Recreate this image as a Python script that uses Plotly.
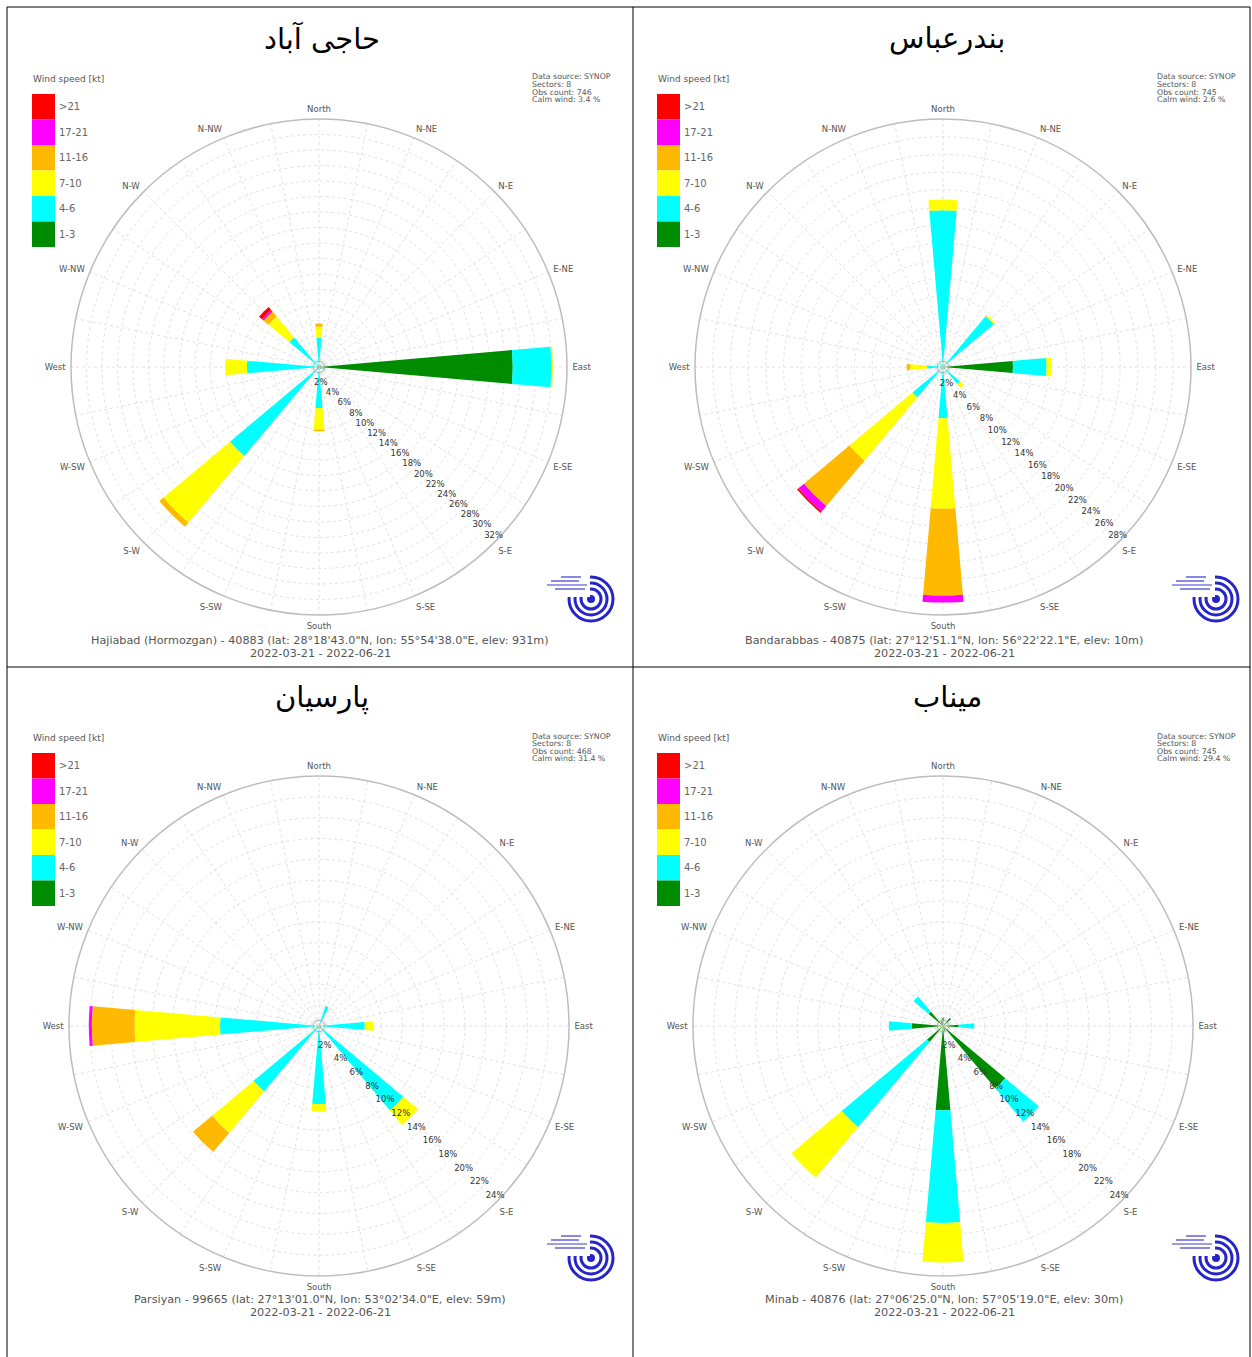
import numpy as np
import plotly.graph_objects as go

W, H = 1252, 1357

# ---------------------------------------------------------------- data
DIRECTIONS = ["N", "NNE", "NE", "ENE", "E", "ESE", "SE", "SSE",
              "S", "SSW", "SW", "WSW", "W", "WNW", "NW", "NNW"]
DIRECTION_LABELS = ["North", "N-NE", "N-E", "E-NE", "East", "E-SE", "S-E", "S-SE",
                    "South", "S-SW", "S-W", "W-SW", "West", "W-NW", "N-W", "N-NW"]
SPEED_CLASSES = ["1-3", "4-6", "7-10", "11-16", "17-21", ">21"]
CLASS_COLORS = ["#008c00", "#00ffff", "#ffff00", "#ffb900", "#ff00ff", "#ff0000"]

# frequency (%) per direction, one list per speed class
#                 N    NNE  NE   ENE  E     ESE  SE   SSE  S    SSW  SW    WSW  W    WNW  NW   NNW
HAJIABAD_1_3   = [0.3, 0.0, 0.2, 0.3, 25.0, 0.5, 0.3, 0.0, 0.3, 0.2, 0.5,  0.2, 0.3, 0.2, 0.3, 0.0]
HAJIABAD_4_6   = [3.5, 0.0, 0.3, 0.0, 5.0,  0.3, 0.0, 0.0, 5.0, 0.0, 14.5, 0.0, 9.0, 0.0, 4.7, 0.0]
HAJIABAD_7_10  = [1.4, 0.0, 0.0, 0.0, 0.2,  0.0, 0.0, 0.0, 2.8, 0.0, 11.2, 0.0, 2.8, 0.0, 3.5, 0.0]
HAJIABAD_11_16 = [0.4, 0.0, 0.0, 0.0, 0.0,  0.0, 0.0, 0.0, 0.2, 0.0, 0.7,  0.0, 0.0, 0.0, 0.8, 0.0]
HAJIABAD_17_21 = [0.0, 0.0, 0.0, 0.0, 0.0,  0.0, 0.0, 0.0, 0.0, 0.0, 0.0,  0.0, 0.0, 0.0, 0.3, 0.0]
HAJIABAD_GT21  = [0.0, 0.0, 0.0, 0.0, 0.0,  0.0, 0.0, 0.0, 0.0, 0.0, 0.0,  0.0, 0.0, 0.0, 0.5, 0.0]

BANDAR_1_3     = [0.3,  0.0, 0.3, 0.0, 7.9, 0.0, 0.3, 0.0, 0.3,  0.0, 0.3, 0.0, 0.3, 0.0, 0.0, 0.0]
BANDAR_4_6     = [17.4, 0.0, 7.2, 0.0, 3.8, 0.0, 2.2, 0.0, 5.5,  0.0, 4.2, 0.0, 1.5, 0.0, 0.5, 0.0]
BANDAR_7_10    = [1.2,  0.0, 0.2, 0.0, 0.6, 0.0, 0.6, 0.0, 10.2, 0.0, 9.3, 0.0, 1.9, 0.0, 0.0, 0.0]
BANDAR_11_16   = [0.0,  0.0, 0.0, 0.0, 0.0, 0.0, 0.0, 0.0, 9.8,  0.0, 6.7, 0.0, 0.4, 0.0, 0.0, 0.0]
BANDAR_17_21   = [0.0,  0.0, 0.0, 0.0, 0.0, 0.0, 0.0, 0.0, 0.8,  0.0, 0.8, 0.0, 0.0, 0.0, 0.0, 0.0]
BANDAR_GT21    = [0.0,  0.0, 0.0, 0.0, 0.0, 0.0, 0.0, 0.0, 0.0,  0.0, 0.2, 0.0, 0.0, 0.0, 0.0, 0.0]

PARSIYAN_1_3   = [0.0, 0.2, 0.0, 0.0, 0.2, 0.0, 0.3,  0.0, 0.3, 0.0, 0.3, 0.0, 0.3, 0.0, 0.0, 0.0]
PARSIYAN_4_6   = [0.0, 1.8, 0.0, 0.0, 4.2, 0.0, 10.3, 0.0, 7.2, 0.0, 7.9, 0.0, 9.2, 0.0, 0.0, 0.0]
PARSIYAN_7_10  = [0.0, 0.0, 0.0, 0.0, 0.8, 0.0, 1.8,  0.0, 0.7, 0.0, 5.2, 0.0, 8.2, 0.0, 0.0, 0.0]
PARSIYAN_11_16 = [0.0, 0.0, 0.0, 0.0, 0.0, 0.0, 0.0,  0.0, 0.0, 0.0, 2.4, 0.0, 4.1, 0.0, 0.0, 0.0]
PARSIYAN_17_21 = [0.0, 0.0, 0.0, 0.0, 0.0, 0.0, 0.0,  0.0, 0.0, 0.0, 0.0, 0.0, 0.3, 0.0, 0.0, 0.0]
PARSIYAN_GT21  = [0.0] * 16

MINAB_1_3      = [0.8, 0.0, 1.0, 0.0, 1.5, 0.0, 7.8, 0.5, 8.1,  0.0, 2.0,  0.0, 3.0, 0.0, 1.8, 0.5]
MINAB_4_6      = [0.0, 0.0, 0.0, 0.0, 1.5, 0.0, 4.2, 0.0, 10.8, 0.0, 10.7, 0.0, 2.2, 0.0, 1.9, 0.0]
MINAB_7_10     = [0.0, 0.0, 0.0, 0.0, 0.0, 0.0, 0.0, 0.0, 3.8,  0.0, 6.3,  0.0, 0.0, 0.0, 0.0, 0.0]
MINAB_11_16    = [0.0] * 16
MINAB_17_21    = [0.0] * 16
MINAB_GT21     = [0.0] * 16

STATION_TITLES = ["حاجی آباد", "بندرعباس", "پارسیان", "میناب"]
STATION_CAPTIONS = [
    "Hajiabad (Hormozgan) - 40883 (lat: 28°18'43.0\"N, lon: 55°54'38.0\"E, elev: 931m)",
    "Bandarabbas - 40875 (lat: 27°12'51.1\"N, lon: 56°22'22.1\"E, elev: 10m)",
    "Parsiyan - 99665 (lat: 27°13'01.0\"N, lon: 53°02'34.0\"E, elev: 59m)",
    "Minab - 40876 (lat: 27°06'25.0\"N, lon: 57°05'19.0\"E, elev: 30m)",
]
PERIOD = "2022-03-21 - 2022-06-21"
OBS_COUNTS = [746, 745, 468, 745]
CALM_PERCENT = [3.4, 2.6, 31.4, 29.4]
RADIAL_MAX = [32, 28, 24, 24]

STATION_SERIES = [
    [HAJIABAD_1_3, HAJIABAD_4_6, HAJIABAD_7_10, HAJIABAD_11_16, HAJIABAD_17_21, HAJIABAD_GT21],
    [BANDAR_1_3, BANDAR_4_6, BANDAR_7_10, BANDAR_11_16, BANDAR_17_21, BANDAR_GT21],
    [PARSIYAN_1_3, PARSIYAN_4_6, PARSIYAN_7_10, PARSIYAN_11_16, PARSIYAN_17_21, PARSIYAN_GT21],
    [MINAB_1_3, MINAB_4_6, MINAB_7_10, MINAB_11_16, MINAB_17_21, MINAB_GT21],
]

# ---------------------------------------------------------------- layout helpers
def px(x):
    return x / W


def py(y):
    return 1 - y / H


# pixel geometry of each cell: rose centre, rose radius, cell origin
PANELS = [
    dict(cx=319, cy=367, r=248, ox=0, oy=0),
    dict(cx=943, cy=367, r=248, ox=625, oy=0),
    dict(cx=319, cy=1026, r=250, ox=0, oy=659),
    dict(cx=943, cy=1026, r=250, ox=625, oy=659),
]

FONT = "DejaVu Sans"
theta = [i * 22.5 for i in range(16)]
grid_vals = [i * 11.25 for i in range(32)]
grid_text = [DIRECTION_LABELS[i // 2] if i % 2 == 0 else "" for i in range(32)]

fig = go.Figure()
shapes, annotations = [], []
layout_polars = {}


def text(x, y, s, size, color="#444", xanchor="left", family=FONT):
    annotations.append(dict(
        x=px(x), y=py(y), xref="paper", yref="paper", text=s, showarrow=False,
        xanchor=xanchor, yanchor="middle", font=dict(family=family, size=size, color=color),
    ))


for p, (panel, series) in enumerate(zip(PANELS, STATION_SERIES)):
    name = "polar" if p == 0 else f"polar{p + 1}"
    for cls, color, values in zip(SPEED_CLASSES, CLASS_COLORS, series):
        fig.add_trace(go.Barpolar(
            r=values, theta=theta, width=[10] * 16, name=cls,
            marker=dict(color=color, line=dict(width=0)),
            subplot=name, showlegend=False,
        ))
    # calm-wind circle at the centre
    ring = np.linspace(0, 360, 73)
    fig.add_trace(go.Scatterpolar(
        r=[RADIAL_MAX[p] * 0.022] * len(ring), theta=ring, mode="lines",
        line=dict(color="#9a9a9a", width=1), subplot=name,
        showlegend=False, hoverinfo="skip",
    ))

    cx, cy, r = panel["cx"], panel["cy"], panel["r"]
    rmax = RADIAL_MAX[p]
    layout_polars[name] = dict(
        domain=dict(x=[px(cx - r), px(cx + r)], y=[py(cy + r), py(cy - r)]),
        bgcolor="white",
        barmode="stack",
        angularaxis=dict(
            rotation=90, direction="clockwise", thetaunit="degrees",
            tickmode="array", tickvals=grid_vals, ticktext=grid_text,
            showline=True, linecolor="#bdbdbd", linewidth=1.5,
            showgrid=True, gridcolor="#e2e2e2", griddash="dot", gridwidth=1,
            ticks="outside", ticklen=3, tickcolor="rgba(0,0,0,0)",
            tickfont=dict(family=FONT, size=8.5, color="#555"),
        ),
        radialaxis=dict(
            range=[0, rmax], angle=-41, tickangle=-41,
            tickmode="array", tickvals=list(range(2, rmax + 1, 2)),
            ticktext=[f"{v}%" for v in range(2, rmax + 1, 2)],
            showline=False, ticks="",
            showgrid=True, gridcolor="#e2e2e2", griddash="dot", gridwidth=1,
            tickfont=dict(family=FONT, size=8.5, color="#333"),
        ),
    )

    ox, oy = panel["ox"], panel["oy"]

    # station title (Persian)
    text(ox + 322, oy + 38, STATION_TITLES[p], 29, color="#000", xanchor="center")

    # speed legend
    lx = ox + 32
    text(lx - 1, oy + 79, "Wind speed [kt]", 9, color="#555")
    top = oy + 94
    box_h = 25.5
    for k in range(6):
        idx = 5 - k
        y0 = top + k * box_h
        shapes.append(dict(
            type="rect", xref="paper", yref="paper",
            x0=px(lx), x1=px(lx + 23), y0=py(y0 + box_h), y1=py(y0),
            fillcolor=CLASS_COLORS[idx], line=dict(width=0),
        ))
        text(lx + 25, y0 + box_h / 2, SPEED_CLASSES[idx], 10, color="#666")

    # source info block
    info_lines = ["Data source: SYNOP", "Sectors: 8", f"Obs count: {OBS_COUNTS[p]}",
                  f"Calm wind: {CALM_PERCENT[p]} %"]
    for j, line in enumerate(info_lines):
        text(ox + 530, oy + 77 + j * 7.6, line, 7.8, color="#555")

    # caption under the rose
    text(cx + 1, oy + 640, STATION_CAPTIONS[p], 11.2, color="#555", xanchor="center")
    text(cx + 1, oy + 653, PERIOD, 11.2, color="#555", xanchor="center")

    # organisation logo: blue spiral with small wordmark lines
    lcx, lcy = ox + 591, oy + 599
    for rad, wdt in [(22, 3), (16, 3), (10, 3)]:
        shapes.append(dict(
            type="circle", xref="paper", yref="paper",
            xsizemode="pixel", ysizemode="pixel", xanchor=px(lcx), yanchor=py(lcy),
            x0=-rad, x1=rad, y0=-rad, y1=rad,
            line=dict(color="#2626c8", width=wdt), fillcolor="rgba(0,0,0,0)",
        ))
    shapes.append(dict(
        type="circle", xref="paper", yref="paper",
        xsizemode="pixel", ysizemode="pixel", xanchor=px(lcx), yanchor=py(lcy),
        x0=-4, x1=4, y0=-4, y1=4, line=dict(width=0), fillcolor="#2626c8",
    ))
    shapes.append(dict(
        type="rect", xref="paper", yref="paper",
        x0=px(lcx - 26), x1=px(lcx - 1), y0=py(lcy - 2), y1=py(lcy - 26),
        line=dict(width=0), fillcolor="white",
    ))
    for j, (xa, xb) in enumerate([(lcx - 30, lcx - 10), (lcx - 40, lcx - 12),
                                  (lcx - 44, lcx - 4), (lcx - 36, lcx - 6)]):
        yy = lcy - 22 + j * 4
        shapes.append(dict(
            type="line", xref="paper", yref="paper",
            x0=px(xa), x1=px(xb), y0=py(yy), y1=py(yy),
            line=dict(color="#3a3ad0", width=1.2),
        ))

# table borders
border = dict(color="#000", width=1)
for (x0, y0, x1, y1) in [(7, 7, 1250, 7), (7, 7, 7, 1357), (1250, 7, 1250, 1357),
                         (633, 7, 633, 1357), (7, 667, 1250, 667)]:
    shapes.append(dict(type="line", xref="paper", yref="paper",
                       x0=px(x0), x1=px(x1), y0=py(y0), y1=py(y1), line=border))

fig.update_layout(
    width=W, height=H, autosize=False,
    margin=dict(l=0, r=0, t=0, b=0),
    paper_bgcolor="white", plot_bgcolor="white",
    showlegend=False,
    shapes=shapes, annotations=annotations,
    **layout_polars,
)

fig.write_html("out.html")
